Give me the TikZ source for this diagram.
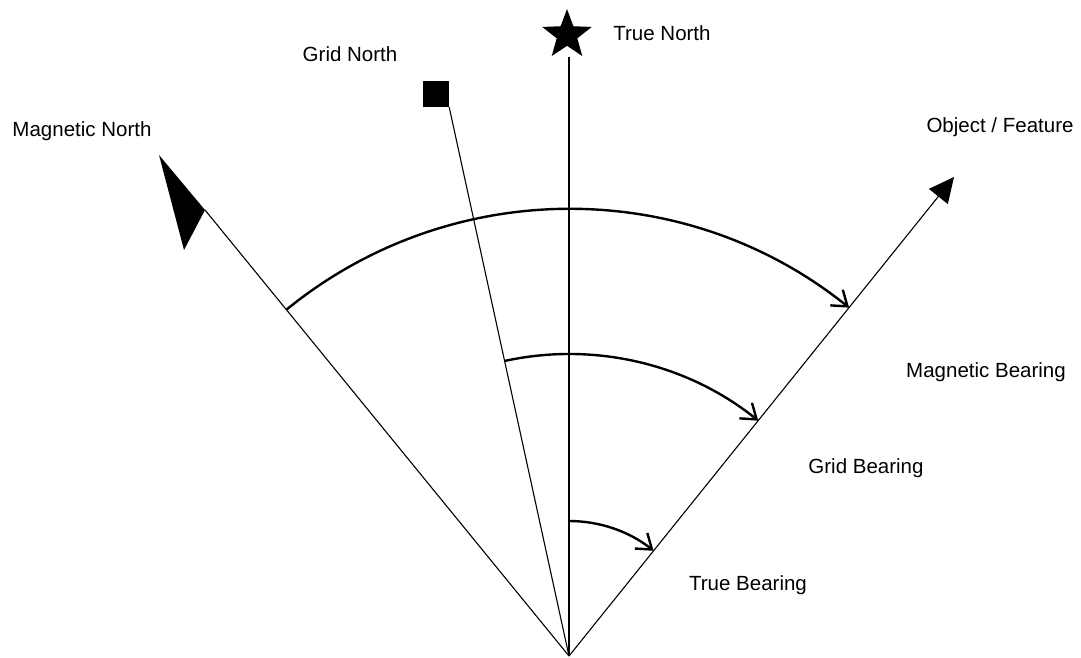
\documentclass[tikz,border=0pt]{standalone}
\usepackage{fontspec}
\setmainfont{Liberation Sans}
\usepackage{tikz}
\usetikzlibrary{arrows.meta, shapes.geometric}

\begin{document}
\begin{tikzpicture}[
    x=1pt, y=1pt,
    every node/.style={font=\fontsize{20.5}{24}\selectfont},
    lbl/.style={anchor=base},
    ray/.style={line width=1.1pt},
    bearing/.style={line width=2.4pt, -{Straight Barb[length=14pt, width=20pt, line width=2.4pt]}},
]
\useasboundingbox (0,0) rectangle (1081,657);

% origin of all bearings
\coordinate (O) at (569,1);

% north symbols
\node[star, star points=5, star point ratio=2.4, fill=black, inner sep=0pt, minimum size=52pt] (tn) at (567,622) {};
\node[rectangle, fill=black, inner sep=0pt, minimum size=26pt] (gn) at (436,563) {};
\coordinate (mn) at (205,447);
\fill (mn) -- (159,502) -- (184,407) -- cycle;
\coordinate (obj) at (954,480);

% direction lines
\draw[ray] (O) -- (569,600);
\draw[ray] (O) -- (gn.south east);
\draw[ray] (O) -- (mn);
\draw[ray, -{Triangle[length=25pt, width=24pt]}] (O) -- (obj);

% bearing arcs
\draw[bearing] (O) ++(129.2:447) arc[start angle=129.2, end angle=51.2, radius=447pt];
\draw[bearing] (O) ++(102.3:302) arc[start angle=102.3, end angle=51.2, radius=302pt];
\draw[bearing] (O) ++(90:135) arc[start angle=90, end angle=51.2, radius=135pt];

% labels
\node[lbl] (tnLbl) at (662,616) {True North};
\node[lbl] (gnLbl) at (350,595) {Grid North};
\node[lbl] (mnLbl) at (82,520) {Magnetic North};
\node[lbl] (objLbl) at (1000,524) {Object / Feature};
\node[lbl] (mbLbl) at (986,280) {Magnetic Bearing};
\node[lbl] (gbLbl) at (866,184) {Grid Bearing};
\node[lbl] (tbLbl) at (748,67) {True Bearing};

\end{tikzpicture}
\end{document}
